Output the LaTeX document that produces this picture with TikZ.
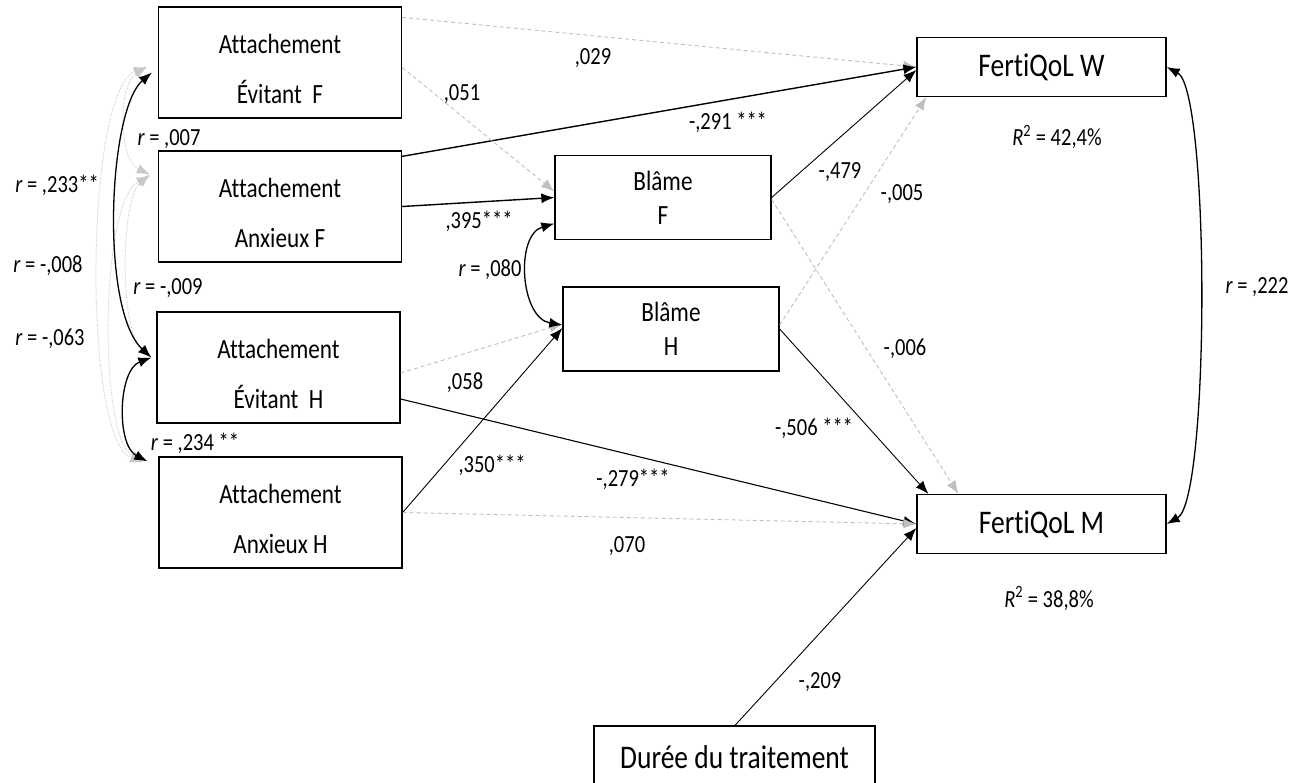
\documentclass[tikz,border=0pt]{standalone}
\usepackage{fontspec}
\setmainfont{Carlito}[Ligatures=NoCommon]
\usepackage{graphicx}
\usetikzlibrary{arrows.meta,calc}

% text is drawn slightly tall and narrow
\newcommand{\vs}[1]{\scalebox{1}[1.2]{#1}}
\newcommand{\fAtt}{\fontsize{23.2}{50}\selectfont}
\newcommand{\fBl}{\fontsize{23.2}{34}\selectfont}
\newcommand{\fBig}{\fontsize{27.5}{33}\selectfont}
\newcommand{\fLab}{\fontsize{20.5}{24}\selectfont}

\definecolor{pale}{HTML}{BFBFBF}
\definecolor{dotc}{HTML}{C8C8C8}

\tikzset{
  box/.style={draw=black, line width=1.3pt, inner sep=0pt, align=center},
  attbox/.style={box, font=\fAtt, minimum width=243pt, minimum height=111pt},
  blbox/.style={box, font=\fBl, minimum width=216pt, minimum height=84pt},
  fqbox/.style={box, font=\fBig, minimum width=249pt, minimum height=59pt},
  lab/.style={font=\fLab, inner sep=0pt, text height=16pt, text depth=0pt},
  sol/.style={draw=black, line width=1.4pt, -{Latex[length=13pt,width=10pt]}},
  thn/.style={draw=black, line width=0.9pt, -{Latex[length=13pt,width=10pt]}},
  dsh/.style={draw=pale, line width=0.9pt, dash pattern=on 4pt off 3pt, -{Latex[length=13pt,width=10pt]}},
  cor/.style={draw=black, line width=1.3pt, {Latex[length=13pt,width=10pt]}-{Latex[length=13pt,width=10pt]}},
  dotcor/.style={draw=dotc, line width=1pt, dash pattern=on 1pt off 1.5pt, {Latex[length=13pt,width=10pt]}-{Latex[length=13pt,width=10pt]}},
}

\begin{document}
\begin{tikzpicture}[x=1pt,y=-1pt]
\useasboundingbox (0,0) rectangle (1293,782);
\clip (0,0) rectangle (1293,782);

% variables
\node[attbox] (aef) at (280,62.5) {\rule{0pt}{33pt}\vs{Attachement}\\\vs{Évitant~~F}};
\node[attbox] (aaf) at (280,206.5) {\rule{0pt}{33pt}\vs{Attachement}\\\vs{Anxieux F}};
\node[attbox] (aeh) at (278.5,367.5) {\rule{0pt}{33pt}\vs{Attachement}\\\vs{Évitant~~H}};
\node[attbox] (aah) at (280.5,512.5) {\rule{0pt}{33pt}\vs{Attachement}\\\vs{Anxieux H}};
\node[blbox] (blf) at (663,197.5) {\vs{Blâme}\\\vs{F}};
\node[blbox] (blh) at (671,329) {\vs{Blâme}\\\vs{H}};
\node[fqbox] (fqw) at (1041.5,67) {\vs{FertiQoL W}};
\node[fqbox] (fqm) at (1041.5,524) {\vs{FertiQoL M}};
\node[box, font=\fBig, minimum width=281pt, minimum height=62pt] (dur) at (734.5,757) {\vs{Durée du traitement}};

% paths towards FertiQoL W
\draw[dsh] ($(aef.north east)+(0,11)$) -- (fqw.west);
\draw[sol] ($(aaf.north east)+(0,6)$) -- (fqw.west);
\draw[thn] (blf.east) -- ($(fqw.west)+(0,3)$);
\draw[dsh] ($(blh.east)+(0,-4)$) -- ($(fqw.south west)+(10,0)$);

% paths towards the blame variables
\draw[dsh] ($(aef.east)+(0,5)$) -- ($(blf.west)+(0,-6)$);
\draw[sol] (aaf.east) -- (blf.west);
\draw[dsh] ($(aeh.east)+(0,5.5)$) -- ($(blh.west)+(0,-5)$);
\draw[thn] (aah.east) -- ($(blh.west)+(0,-1)$);

% paths towards FertiQoL M
\draw[dsh] ($(blf.east)+(0,2)$) -- ($(fqm.north west)+(42,0)$);
\draw[thn] (blh.east) -- ($(fqm.north west)+(12,0)$);
\draw[sol, line width=1.1pt] ($(aeh.east)+(0,31.5)$) -- (fqm.west);
\draw[dsh] (aah.east) -- (fqm.west);
\draw[thn] ($(dur.north)+(0.5,0)$) -- ($(fqm.west)+(0,4)$);

% correlations
\draw[cor] (fqw.east) .. controls (1210,90) and (1210,500) .. (fqm.east);
\draw[cor] ($(blf.west)+(0,26)$) .. controls (515,235) and (520,318) .. ($(blh.west)+(0,-4)$);

\draw[dotcor] ($(aef.west)+(-11,4.5)$) .. controls (85,90) and (82,440) .. ($(aah.north west)+(-15,6)$);
\draw[dotcor] ($(aaf.north west)+(-8,26)$) .. controls (100,200) and (98,440) .. ($(aah.north west)+(-14,5)$);
\draw[dotcor] ($(aaf.north west)+(-8,24)$) .. controls (120,200) and (120,330) .. ($(aeh.west)+(-6,-10)$);
\draw[dotcor] ($(aef.west)+(-11,4.5)$) .. controls (118,85) and (118,160) .. ($(aaf.north west)+(-8,24)$);
\draw[cor] ($(aef.west)+(-6,10)$) .. controls (108,110) and (100,310) .. ($(aeh.west)+(-5,-10)$);
\draw[cor] ($(aeh.west)+(-5,-10)$) .. controls (118,370) and (116,445) .. ($(aah.north west)+(-11,5)$);

% coefficients
\node[lab] (l029) at (593,56) {\vs{,029}};
\node[lab] (l051) at (462,92) {\vs{,051}};
\node[lab] (l291) at (728,121) {\vs{-,291 ***}};
\node[lab] (l395) at (479,220) {\vs{,395***}};
\node[lab] (l479) at (840,170) {\vs{-,479}};
\node[lab] (l005) at (902,192) {\vs{-,005}};
\node[lab] (l006) at (905,347) {\vs{-,006}};
\node[lab] (l506) at (814,427) {\vs{-,506 ***}};
\node[lab] (l058) at (465,381) {\vs{,058}};
\node[lab] (l350) at (492,464) {\vs{,350***}};
\node[lab] (l279) at (633,478) {\vs{-,279***}};
\node[lab] (l070) at (627,544) {\vs{,070}};
\node[lab] (l209) at (820,680) {\vs{-,209}};

\node[lab] (r080) at (490,268) {\vs{\textit{r} = ,080}};
\node[lab] (r222) at (1257,285) {\vs{\textit{r} = ,222}};
\node[lab] (r233) at (57,184) {\vs{\textit{r} = ,233**}};
\node[lab] (r007) at (169,137.5) {\vs{\textit{r} = ,007}};
\node[lab] (r008) at (48,264) {\vs{\textit{r} =  -,008}};
\node[lab] (r009) at (168,286) {\vs{\textit{r} = -,009}};
\node[lab] (r063) at (50,337) {\vs{\textit{r} = -,063}};
\node[lab] (r234) at (195,442) {\vs{\textit{r} = ,234 **}};

\node[lab] (rsqw) at (1057,137.5) {\vs{\textit{R}\textsuperscript{2} = 42,4\%}};
\node[lab] (rsqm) at (1049,599) {\vs{\textit{R}\textsuperscript{2} = 38,8\%}};
\end{tikzpicture}
\end{document}
